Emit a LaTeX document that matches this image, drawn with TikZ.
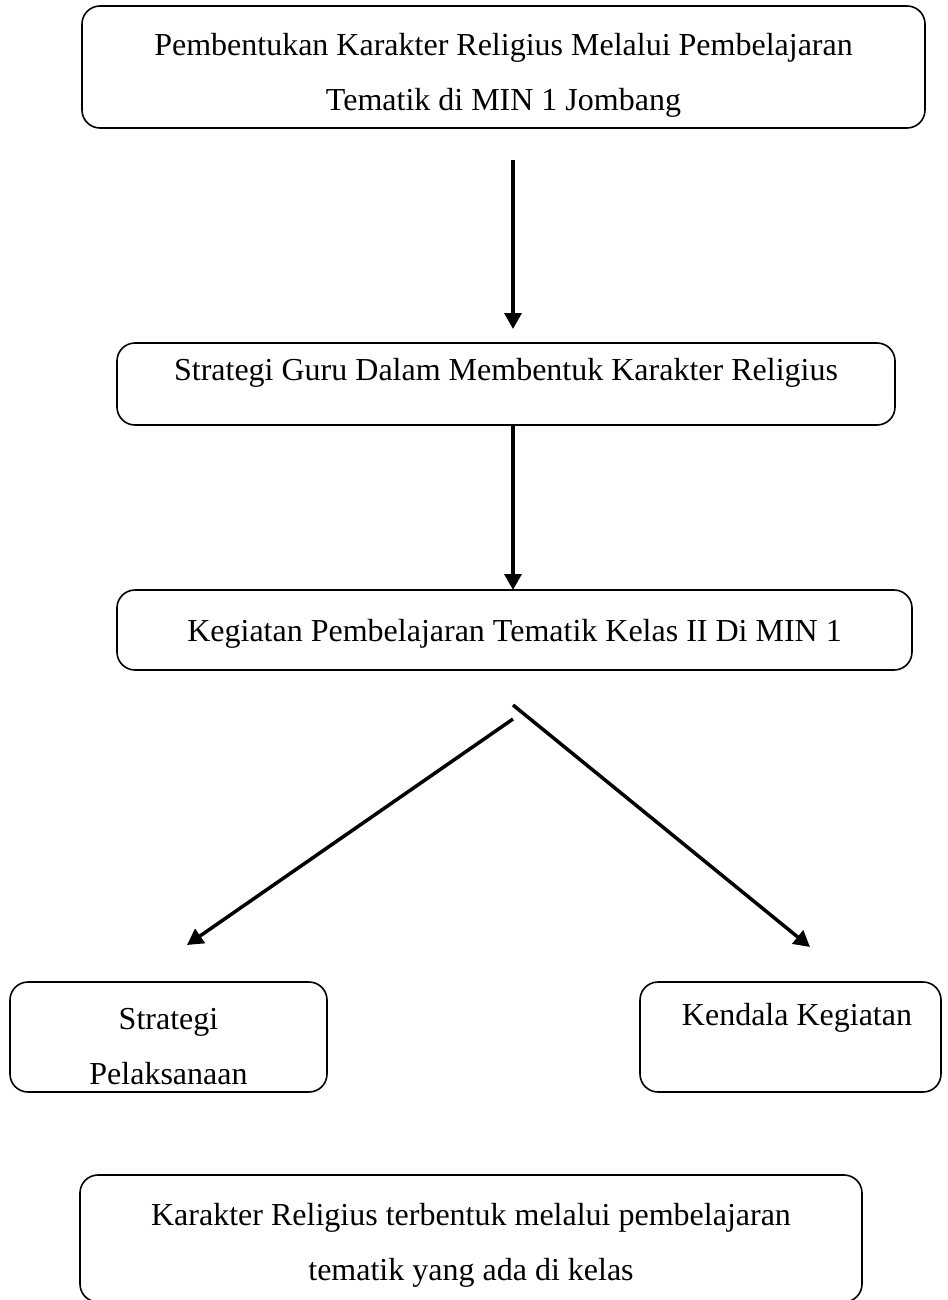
\documentclass[tikz,border=0pt]{standalone}
\usepackage{fontspec}
\setmainfont{Liberation Serif}
\usetikzlibrary{arrows.meta}
\begin{document}
\begin{tikzpicture}[x=1pt,y=-1pt,
  box/.style={draw, line width=1.6pt, rounded corners=18pt, inner sep=0pt},
  lbl/.style={font=\fontsize{32}{55}\selectfont, align=center, inner sep=0pt},
  arr/.style={line width=3.5pt, -{Triangle[length=16pt,width=17pt]}}
]
\useasboundingbox (0,0) rectangle (947,1300);
% boxes
\node[box, minimum width=843pt, minimum height=122pt] (b1) at (503.5,67) {};
\node[box, minimum width=778pt, minimum height=82pt] (b2) at (506,384) {};
\node[box, minimum width=795pt, minimum height=80pt] (b3) at (514.5,630) {};
\node[box, minimum width=317pt, minimum height=110pt] (b4) at (168.5,1037) {};
\node[box, minimum width=301pt, minimum height=110pt] (b5) at (790.5,1037) {};
\node[box, minimum width=782pt, minimum height=127pt] (b6) at (471,1238.5) {};
% texts
\node[lbl] (t1) at (503.5,75) {Pembentukan Karakter Religius Melalui Pembelajaran\\Tematik di MIN 1 Jombang};
\node[lbl] (t2) at (506,373) {Strategi Guru Dalam Membentuk Karakter Religius};
\node[lbl] (t3) at (514.5,634) {Kegiatan Pembelajaran Tematik Kelas II Di MIN 1};
\node[lbl] (t4) at (168.5,1047) {Strategi\\Pelaksanaan};
\node[lbl] (t5) at (797,1018) {Kendala Kegiatan};
\node[lbl] (t6) at (471,1245) {Karakter Religius terbentuk melalui pembelajaran\\tematik yang ada di kelas};
% connector end points
\coordinate (a1s) at (513,160);
\coordinate (a1e) at (513,329);
\coordinate (a2s) at (513,425);
\coordinate (a2e) at (513,590);
\coordinate (l1s) at (513,719);
\coordinate (l1e) at (187,945);
\coordinate (l2s) at (513,705);
\coordinate (l2e) at (810,947);
\draw[arr] (a1s) -- (a1e);
\draw[arr] (a2s) -- (a2e);
\draw[arr] (l1s) -- (l1e);
\draw[arr] (l2s) -- (l2e);
\end{tikzpicture}
\end{document}
